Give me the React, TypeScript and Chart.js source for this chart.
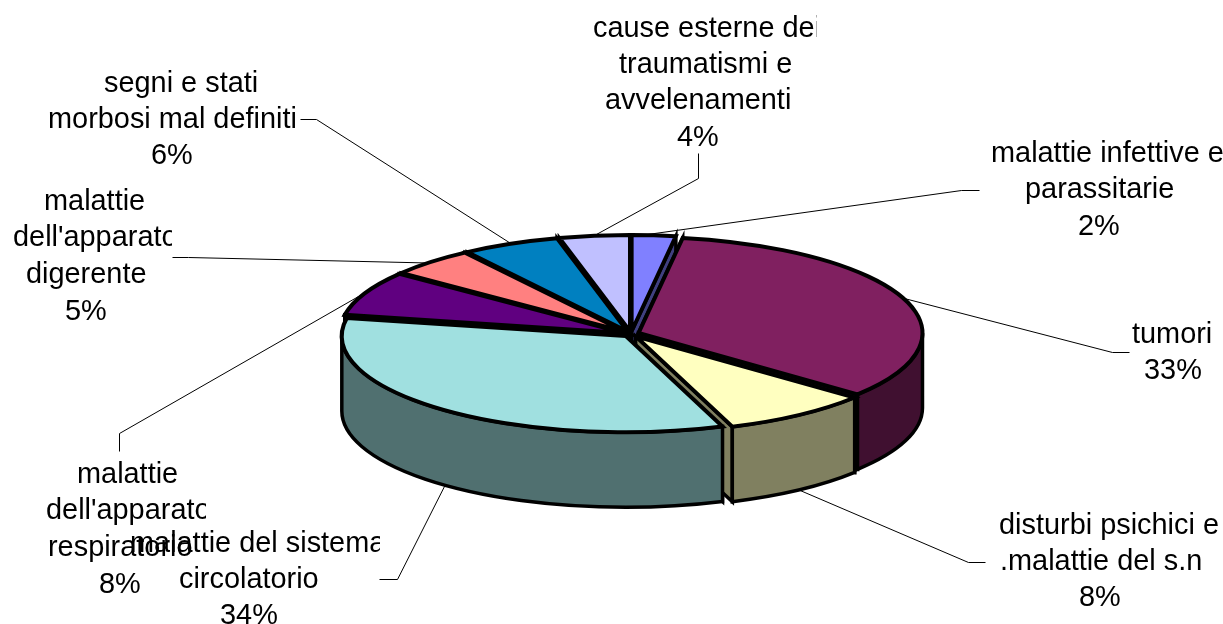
import React, { useEffect, useRef } from "react";
import { Chart, registerables } from "chart.js";

Chart.register(...registerables);

// ---- data ----
const categories = [
  "malattie infettive e parassitarie",
  "tumori",
  "disturbi psichici e .malattie del s.n",
  "malattie del sistema circolatorio",
  "malattie dell'apparato respiratorio",
  "malattie dell'apparato digerente",
  "segni e stati morbosi mal definiti",
  "cause esterne dei traumatismi e avvelenamenti",
];
const values = [2.49, 33.49, 8.49, 33.53, 7.51, 4.93, 5.56, 4.0];
const labelLines = [
  ["malattie infettive e", "parassitarie"],
  ["tumori"],
  ["disturbi psichici e", ".malattie del s.n"],
  ["malattie del sistema", "circolatorio"],
  ["malattie", "dell'apparato", "respiratorio"],
  ["malattie", "dell'apparato", "digerente"],
  ["segni e stati", "morbosi mal definiti"],
  ["cause esterne dei", "traumatismi e", "avvelenamenti"],
];

// ---- styles ----
const topColors = ["#8080FF", "#802060", "#FFFFC0", "#A0E0E0", "#600080", "#FF8080", "#0080C0", "#C0C0FF"];
const sideColors = ["#404080", "#401030", "#808060", "#507070", "#300040", "#804040", "#004060", "#606080"];
const SQUASH = 0.339;
const DEPTH = 75;
const EXPLODE = 8;
const FONT = '28.9px "Liberation Sans", Arial, sans-serif';

// ---- label layout: left edge and baseline per line (last line = percentage), optional clip edge ----
const labelLayouts = [
  { xs: [991, 1025, 1078], ys: [162, 198, 235], clip: 1223 },
  { xs: [1132, 1144], ys: [343, 379], clip: 1223 },
  { xs: [999, 1000, 1079], ys: [534, 570, 606], clip: 1223 },
  { xs: [130, 179, 220], ys: [552, 588, 624], clip: 380 },
  { xs: [77, 46, 48, 99], ys: [483, 519, 556, 593], clip: 206 },
  { xs: [44, 13, 26, 65], ys: [210, 246, 283, 320], clip: 172 },
  { xs: [104, 48, 151], ys: [92, 128, 164], clip: 300 },
  { xs: [593, 619, 605, 677], ys: [37, 73, 109, 146], clip: 817 },
];
const leaderLines = [
  [[979, 190], [961, 190], [640, 235]],
  [[1129, 352], [1112, 352], [900, 297]],
  [[985, 562], [968, 562], [795, 488]],
  [[379, 579], [397, 579], [446, 482]],
  [[119, 451], [119, 433], [365, 292]],
  [[172, 257], [188, 257], [450, 263]],
  [[300, 119], [316, 119], [515, 246]],
  [[698, 153], [698, 178], [585, 240]],
];
const drawOrderForLabels = [0, 1, 2, 4, 3, 5, 6, 7];

const pie3d = {
  id: "pie3d",
  beforeDraw(chart: any) {
    const { ctx, width, height } = chart;
    ctx.save();
    ctx.fillStyle = "#fff";
    ctx.fillRect(0, 0, width, height);
    ctx.restore();
  },
  beforeDatasetsDraw(chart: any) {
    const { ctx } = chart;
    const arcs: any[] = chart.getDatasetMeta(0).data;
    const total = values.reduce((a, b) => a + b, 0);

    // leader lines
    ctx.save();
    ctx.strokeStyle = "#000";
    ctx.lineWidth = 1;
    leaderLines.forEach((pts) => {
      ctx.beginPath();
      pts.forEach(([x, y], i) => (i ? ctx.lineTo(x + 0.5, y + 0.5) : ctx.moveTo(x + 0.5, y + 0.5)));
      ctx.stroke();
    });
    ctx.restore();

    const geom = arcs.map((arc) => {
      const mid = (arc.startAngle + arc.endAngle) / 2;
      const R = arc.outerRadius;
      const ry = R * SQUASH;
      const x = arc.x + Math.cos(mid) * EXPLODE;
      const y = arc.y + Math.sin(mid) * EXPLODE * SQUASH;
      return { arc, mid, R, ry, x, y, a: arc.startAngle, b: arc.endAngle };
    });

    ctx.save();
    ctx.strokeStyle = "#000";
    ctx.lineJoin = "miter";

    // radial cut faces, far slices first
    ctx.lineWidth = 3.5;
    const order = geom.map((_, i) => i).sort((i, j) => Math.sin(geom[i].mid) - Math.sin(geom[j].mid));
    order.forEach((i) => {
      const g = geom[i];
      [g.a, g.b].forEach((t) => {
        const px = g.x + Math.cos(t) * g.R;
        const py = g.y + Math.sin(t) * g.ry;
        ctx.beginPath();
        ctx.moveTo(g.x, g.y);
        ctx.lineTo(px, py);
        ctx.lineTo(px, py + DEPTH);
        ctx.lineTo(g.x, g.y + DEPTH);
        ctx.closePath();
        ctx.fillStyle = sideColors[i];
        ctx.fill();
        ctx.stroke();
      });
    });

    // outer walls (front half of the rim only)
    order.forEach((i) => {
      const g = geom[i];
      const ranges: [number, number][] = [];
      for (const k of [-2, 0, 2]) {
        const lo = Math.max(g.a, k * Math.PI);
        const hi = Math.min(g.b, k * Math.PI + Math.PI);
        if (hi > lo) ranges.push([lo, hi]);
      }
      ranges.forEach(([lo, hi]) => {
        ctx.beginPath();
        ctx.ellipse(g.x, g.y, g.R, g.ry, 0, lo, hi);
        ctx.lineTo(g.x + Math.cos(hi) * g.R, g.y + Math.sin(hi) * g.ry + DEPTH);
        ctx.ellipse(g.x, g.y + DEPTH, g.R, g.ry, 0, hi, lo, true);
        ctx.closePath();
        ctx.fillStyle = sideColors[i];
        ctx.fill();
        ctx.stroke();
      });
    });

    // top faces: the library's arc elements, squashed and moved out
    geom.forEach((g) => {
      ctx.save();
      ctx.translate(g.x - g.arc.x, g.y - g.arc.y);
      ctx.translate(g.arc.x, g.arc.y);
      ctx.scale(1, SQUASH);
      ctx.translate(-g.arc.x, -g.arc.y);
      g.arc.draw(ctx);
      ctx.restore();
    });
    ctx.lineWidth = 4;
    geom.forEach((g) => {
      ctx.beginPath();
      ctx.moveTo(g.x, g.y);
      ctx.ellipse(g.x, g.y, g.R, g.ry, 0, g.a, g.b);
      ctx.closePath();
      ctx.stroke();
    });
    ctx.restore();

    // labels
    ctx.save();
    ctx.font = FONT;
    ctx.fillStyle = "#000";
    ctx.textAlign = "left";
    ctx.textBaseline = "alphabetic";
    drawOrderForLabels.forEach((i) => {
      const layout = labelLayouts[i];
      const lines = [...labelLines[i], `${Math.round((values[i] / total) * 100)}%`];
      lines.forEach((text, l) => {
        const isPct = l === lines.length - 1;
        ctx.save();
        if (!isPct) {
          ctx.beginPath();
          ctx.rect(0, 0, layout.clip, 624);
          ctx.clip();
        }
        ctx.fillText(text, layout.xs[l], layout.ys[l]);
        ctx.restore();
      });
    });
    ctx.restore();
    return false;
  },
};

export default function App() {
  const ref = useRef<HTMLCanvasElement>(null);
  useEffect(() => {
    const chart = new Chart(ref.current as HTMLCanvasElement, {
      type: "pie",
      data: {
        labels: categories,
        datasets: [{ data: values, backgroundColor: topColors, borderWidth: 0, radius: 284 } as any],
      },
      options: {
        animation: false,
        responsive: false,
        radius: 284,
        layout: { padding: { left: 39, right: 0, top: 44, bottom: 0 } },
        plugins: { legend: { display: false }, tooltip: { enabled: false } },
      } as any,
      plugins: [pie3d as any],
    });
    return () => chart.destroy();
  }, []);
  return (
    <canvas
      ref={ref}
      width={1223}
      height={624}
      style={{ position: "fixed", left: 0, top: 0, width: 1223, height: 624, display: "block" }}
    />
  );
}
